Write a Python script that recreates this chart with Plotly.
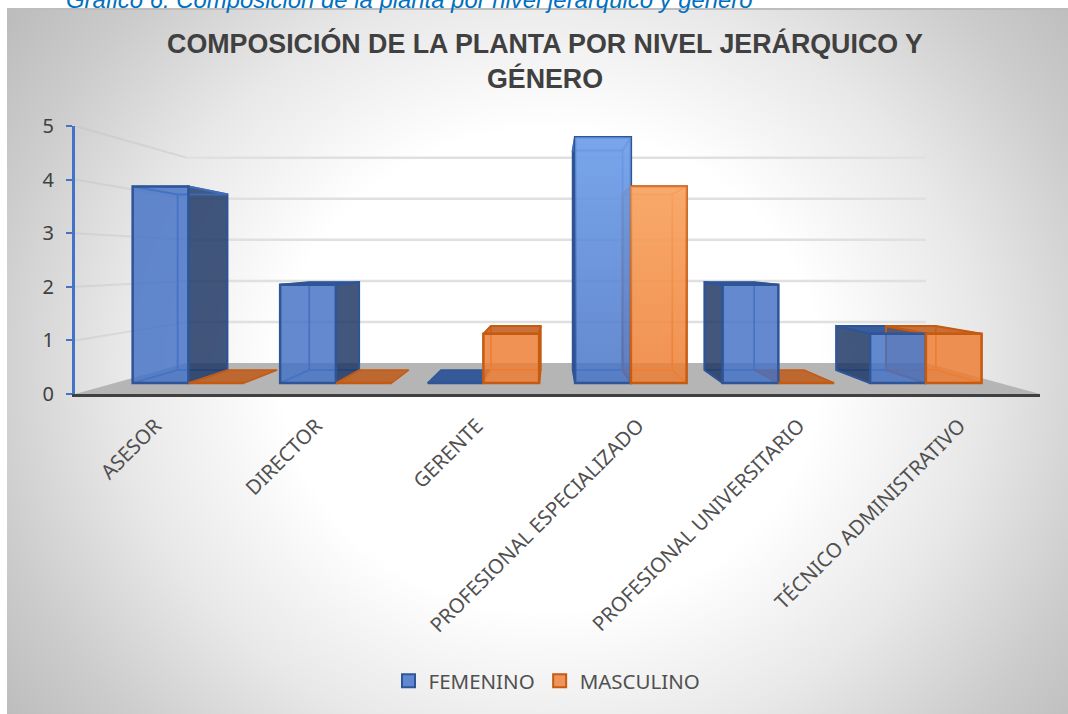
import base64
import plotly.graph_objects as go

categories = ["ASESOR", "DIRECTOR", "GERENTE", "PROFESIONAL ESPECIALIZADO",
              "PROFESIONAL UNIVERSITARIO", "TÉCNICO ADMINISTRATIVO"]
femenino = [4, 2, 0, 5, 2, 1]
masculino = [0, 0, 1, 4, 0, 1]
y_ticks = [0, 1, 2, 3, 4, 5]

W, H = 1068, 714
PX0, PX1, PY0, PY1 = 75, 1040, 394, 126
XR = (-0.5, 5.5)
YR = (0, 5)
VX, VY = 2.472, 2.472
S_WALL, S_FRONT, S_BACK = 0.766, 0.917, 0.819
BAR_W = 0.378

BLUE_LINE, ORANGE_LINE = "#2f5597", "#c55a11"


def proj(x, y, s):
    return VX + s * (x - VX), VY + s * (y - VY)


def face(fig, pts, fill, line, width=1.5):
    xs, ys = zip(*(pts + pts[:1]))
    fig.add_trace(go.Scatter(x=list(xs), y=list(ys), mode="lines", fill="toself",
                             fillcolor=fill, line=dict(color=line, width=width),
                             hoverinfo="skip", showlegend=False))


fig = go.Figure()

face(fig, [proj(-0.5, 0, 1), proj(5.5, 0, 1), proj(5.5, 0, S_WALL), proj(-0.5, 0, S_WALL)],
     "#b5b5b5", "rgba(0,0,0,0)", 0)

for t in y_ticks[1:]:
    a, b, c = proj(-0.5, t, 1), proj(-0.5, t, S_WALL), proj(5.5, t, S_WALL)
    fig.add_trace(go.Scatter(x=[a[0], b[0]], y=[a[1], b[1]], mode="lines",
                             line=dict(color="rgba(190,190,190,0.35)", width=2),
                             hoverinfo="skip", showlegend=False))
    fig.add_trace(go.Scatter(x=[b[0], c[0]], y=[b[1], c[1]], mode="lines",
                             line=dict(color="#e0e0e0", width=2.5),
                             hoverinfo="skip", showlegend=False))


def box_faces(x0, x1, v, palette):
    dark, ghost, flat, line, inner = palette
    f = lambda x, y: proj(x, y, S_FRONT)
    b = lambda x, y: proj(x, y, S_BACK)
    if v == 0:
        face(fig, [f(x0, 0), f(x1, 0), b(x1, 0), b(x0, 0)], flat, line, 1.5)
        return
    face(fig, [b(x0, 0), b(x1, 0), b(x1, v), b(x0, v)], ghost, inner, 1.5)
    face(fig, [f(x0, 0), f(x1, 0), b(x1, 0), b(x0, 0)], ghost, inner, 1.5)
    left_vis = x0 > VX
    right_vis = x1 < VX
    face(fig, [f(x0, 0), b(x0, 0), b(x0, v), f(x0, v)], dark if left_vis else ghost,
         line if left_vis else inner, 2 if left_vis else 1.5)
    face(fig, [f(x1, 0), b(x1, 0), b(x1, v), f(x1, v)], dark if right_vis else ghost,
         line if right_vis else inner, 2 if right_vis else 1.5)
    top_vis = v < VY
    face(fig, [f(x0, v), f(x1, v), b(x1, v), b(x0, v)], flat if top_vis else ghost,
         line if top_vis else inner, 2)


PAL_F = ("rgba(28,52,98,0.82)", "rgba(68,114,196,0.08)", "rgba(47,85,151,0.95)", BLUE_LINE,
         "rgba(68,114,196,0.8)")
PAL_M = ("rgba(150,72,16,0.30)", "rgba(237,125,49,0.08)", "rgba(190,90,25,0.85)", ORANGE_LINE,
         "rgba(237,125,49,0.8)")

for i in range(len(categories)):
    box_faces(i - BAR_W, i, femenino[i], PAL_F)
for i in range(len(categories)):
    box_faces(i, i + BAR_W, masculino[i], PAL_M)

x2_range = [VX + (XR[0] - VX) / S_FRONT, VX + (XR[1] - VX) / S_FRONT]
y2_range = [VY + (YR[0] - VY) / S_FRONT, VY + (YR[1] - VY) / S_FRONT]
idx = list(range(len(categories)))

fig.add_trace(go.Bar(name="FEMENINO", x=idx, y=femenino, width=BAR_W, offset=-BAR_W,
                     xaxis="x2", yaxis="y2", customdata=categories, showlegend=False,
                     marker=dict(color="rgba(68,114,196,0.82)", line=dict(color=BLUE_LINE, width=2.5))))
fig.add_trace(go.Bar(name="MASCULINO", x=idx, y=masculino, width=BAR_W, offset=0,
                     xaxis="x2", yaxis="y2", customdata=categories, showlegend=False,
                     marker=dict(color="rgba(237,125,49,0.82)", line=dict(color=ORANGE_LINE, width=2.5))))

sheens = (("rgba(130,180,255,0)", "rgba(135,185,255,0.6)"),
          ("rgba(255,180,110,0)", "rgba(255,185,125,0.6)"))
for (off, v), (c0, c1) in zip(((-BAR_W, femenino[3]), (0, masculino[3])), sheens):
    fig.add_trace(go.Scatter(
        x=[3 + off, 3 + off + BAR_W, 3 + off + BAR_W, 3 + off, 3 + off],
        y=[0, 0, v, v, 0], mode="lines", line=dict(width=0), xaxis="x2", yaxis="y2",
        fill="toself", hoverinfo="skip", showlegend=False,
        fillgradient=dict(type="vertical", start=0, stop=v,
                          colorscale=[[0, c0], [1, c1]])))

# legend keys
for name, fill, line in (("FEMENINO", "#5f88d2", BLUE_LINE), ("MASCULINO", "#f0935a", ORANGE_LINE)):
    fig.add_trace(go.Scatter(x=[None], y=[None], name=name, mode="markers", xaxis="x2", yaxis="y2",
                             marker=dict(symbol="square", size=13, color=fill, line=dict(color=line, width=2))))

svg = f'''<svg xmlns="http://www.w3.org/2000/svg" width="{W}" height="{H}" viewBox="0 0 {W} {H}">
<defs><radialGradient id="g" gradientUnits="userSpaceOnUse" cx="0" cy="0" r="1"
 gradientTransform="translate(550 370) scale(672 600)">
<stop offset="0" stop-color="#ffffff"/><stop offset="0.4" stop-color="#ffffff"/>
<stop offset="0.64" stop-color="#e8e8e8"/><stop offset="0.85" stop-color="#cccccc"/>
<stop offset="1" stop-color="#bcbcbc"/></radialGradient></defs>
<rect width="{W}" height="{H}" fill="#ffffff"/>
<rect x="7" y="8" width="{W-7}" height="{H-8}" fill="url(#g)"/>
<rect x="7" y="8" width="{W-7}" height="2" fill="#bdbdbd"/>
</svg>'''
bg = "data:image/svg+xml;base64," + base64.b64encode(svg.encode()).decode()

dom_x = [PX0 / W, PX1 / W]
dom_y = [(H - PY0) / H, (H - PY1) / H]
fig.update_layout(
    width=W, height=H, autosize=False,
    margin=dict(l=0, r=0, t=0, b=0, autoexpand=False),
    paper_bgcolor="white", plot_bgcolor="rgba(0,0,0,0)",
    barmode="overlay", showlegend=True,
    images=[dict(source=bg, xref="paper", yref="paper", x=0, y=1, sizex=1, sizey=1,
                 sizing="stretch", xanchor="left", yanchor="top", layer="below")],
    title=dict(text="COMPOSICIÓN DE LA PLANTA POR NIVEL JERÁRQUICO Y<br>GÉNERO",
               x=545 / W, xanchor="center", y=1 - 53 / H, yanchor="top",
               font=dict(family="Liberation Sans", size=26.8, color="#404040", weight="bold")),
    xaxis=dict(domain=dom_x, range=list(XR), tickmode="array", tickvals=idx, ticktext=categories,
               tickangle=-45, showgrid=False, zeroline=False, showline=True, linecolor="#404040",
               linewidth=3, ticks="outside", ticklen=9, tickcolor="rgba(0,0,0,0)",
               tickfont=dict(family="Noto Sans", size=20.3, color="#505050")),
    yaxis=dict(domain=dom_y, range=list(YR), tickmode="array", tickvals=y_ticks, showgrid=False,
               zeroline=False, showline=True, linecolor="#4472c4", linewidth=3, ticks="outside",
               ticklen=6, tickwidth=2, tickcolor="#4472c4", ticklabelstandoff=8,
               tickfont=dict(family="Noto Sans", size=20, color="#404040")),
    xaxis2=dict(domain=dom_x, range=x2_range, overlaying="x", visible=False, anchor="y2"),
    yaxis2=dict(domain=dom_y, range=y2_range, overlaying="y", visible=False, anchor="x2"),
    legend=dict(orientation="h", x=547 / W, xanchor="center", y=1 - 681 / H, yanchor="middle",
                bgcolor="rgba(0,0,0,0)", font=dict(family="Noto Sans", size=20.5, color="#505050")),
    annotations=[dict(text="Gráfico 6: Composición de la planta por nivel jerárquico y género",
                      xref="paper", yref="paper", x=64 / W, y=1 + 1 / H, xanchor="left", yanchor="middle",
                      showarrow=False,
                      font=dict(family="Liberation Sans", size=23.9, color="#0070c0", style="italic"))],
)

fig.write_html("out.html", config={"displayModeBar": False},
               post_script="document.body.style.margin='0';document.body.style.overflow='hidden';")
